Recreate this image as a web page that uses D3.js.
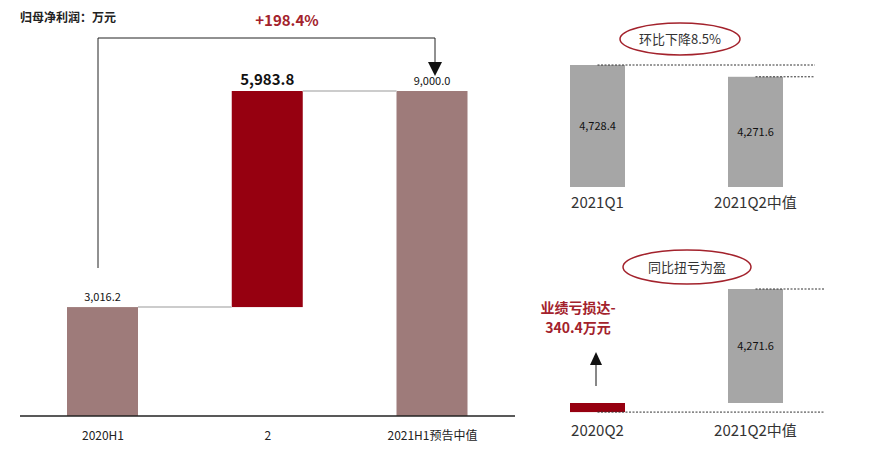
<!DOCTYPE html>
<html><head><meta charset="utf-8">
<script src="https://cdn.jsdelivr.net/npm/d3@7"></script>
<style>body{margin:0;background:#fff}text{font-family:"Noto Sans CJK SC","Noto Sans",sans-serif}</style>
</head><body>
<svg width="880" height="455"></svg>
<script>
// Main waterfall
const categories = ["2020H1", "2", "2021H1预告中值"];
const starts = [0, 3016.2, 0];
const values = [3016.2, 5983.8, 9000.0];
const labels = ["3,016.2", "5,983.8", "9,000.0"];
const colors = ["#9e7b7a", "#960010", "#9e7b7a"];

// Sequential (top right)
const qoqCats = ["2021Q1", "2021Q2中值"];
const qoqVals = [4728.4, 4271.6];

// Year on year (bottom right)
const yoyCats = ["2020Q2", "2021Q2中值"];
const yoyVals = [-340.4, 4271.6];

const svg = d3.select("svg");
const red = "#a3222c";

// ---- main chart
const bw = 71;
const xc = d3.scalePoint().domain(categories).range([102.5, 432]);
const x = d => xc(d) - bw / 2;
const y = d3.scaleLinear().domain([0, 9000]).range([416, 91]);

svg.append("text").attr("x", 20).attr("y", 22).attr("font-size", 12).attr("font-weight", "bold")
    .attr("fill", "#222").text("归母净利润：万元");

svg.selectAll("rect.bar").data(values).join("rect").attr("class", "bar")
    .attr("x", (d, i) => x(categories[i]))
    .attr("width", bw)
    .attr("y", (d, i) => y(starts[i] + d))
    .attr("height", (d, i) => y(starts[i]) - y(starts[i] + d))
    .attr("fill", (d, i) => colors[i]);

// connectors
svg.append("line").attr("x1", x(categories[0]) + bw).attr("x2", x(categories[1]))
    .attr("y1", y(3016.2)).attr("y2", y(3016.2)).attr("stroke", "#ccc").attr("stroke-width", 2);
svg.append("line").attr("x1", x(categories[1]) + bw).attr("x2", x(categories[2]))
    .attr("y1", y(9000)).attr("y2", y(9000)).attr("stroke", "#ccc").attr("stroke-width", 2);

svg.selectAll("text.vl").data(values).join("text").attr("class", "vl")
    .attr("x", (d, i) => xc(categories[i]))
    .attr("y", (d, i) => y(starts[i] + d) - 6)
    .attr("text-anchor", "middle")
    .attr("font-size", (d, i) => i == 1 ? 15 : 11)
    .attr("font-weight", (d, i) => i == 1 ? "bold" : "normal")
    .attr("fill", "#111")
    .text((d, i) => labels[i]);

const ax = svg.append("g").attr("transform", "translate(0,416)")
    .call(d3.axisBottom(xc).tickSize(0).tickPadding(15));
ax.select(".domain").attr("d", "M20,0H515").attr("stroke", "#222").attr("stroke-width", 1.5);
ax.selectAll("text").attr("font-size", 12).attr("fill", "#222");

// growth arrow
const ax0 = 98, ax1 = 435;
svg.append("path").attr("d", `M${ax0},268V38H${ax1}V62`).attr("fill", "none").attr("stroke", "#222");
svg.append("path").attr("d", `M${ax1 - 7},62H${ax1 + 7}L${ax1},76Z`).attr("fill", "#111");
svg.append("text").attr("x", 287).attr("y", 26).attr("text-anchor", "middle")
    .attr("font-size", 15).attr("font-weight", "bold").attr("fill", red).text("+198.4%");

// ---- top right
const bw2 = 55;
const x2 = d3.scalePoint().domain(qoqCats).range([597.5, 755.5]);
const y2 = d3.scaleLinear().domain([0, 4728.4]).range([187, 65]);
svg.selectAll("rect.q").data(qoqVals).join("rect").attr("class", "q")
    .attr("x", (d, i) => x2(qoqCats[i]) - bw2 / 2).attr("width", bw2)
    .attr("y", d => y2(d)).attr("height", d => y2(0) - y2(d)).attr("fill", "#a6a6a6");
svg.selectAll("text.ql").data(qoqVals).join("text").attr("class", "ql")
    .attr("x", (d, i) => x2(qoqCats[i])).attr("y", d => (y2(d) + y2(0)) / 2 + 4)
    .attr("text-anchor", "middle").attr("font-size", 11).attr("fill", "#111")
    .text(d => d3.format(",.1f")(d));
svg.append("line").attr("x1", x2(qoqCats[0])).attr("x2", 815)
    .attr("y1", y2(4728.4)).attr("y2", y2(4728.4)).attr("stroke", "#333").attr("stroke-dasharray", "2,1.5");
svg.append("line").attr("x1", x2(qoqCats[1])).attr("x2", 815)
    .attr("y1", y2(4271.6)).attr("y2", y2(4271.6)).attr("stroke", "#333").attr("stroke-dasharray", "2,1.5");
svg.selectAll("text.qc").data(qoqCats).join("text").attr("class", "qc")
    .attr("x", d => x2(d)).attr("y", 208).attr("text-anchor", "middle")
    .attr("font-size", 15).attr("fill", "#333").text(d => d);
svg.append("ellipse").attr("cx", 680).attr("cy", 39).attr("rx", 60).attr("ry", 16)
    .attr("fill", "none").attr("stroke", red).attr("stroke-width", 1.5);
svg.append("text").attr("x", 680).attr("y", 44).attr("text-anchor", "middle")
    .attr("font-size", 13).attr("fill", "#333").text("环比下降8.5%");

// ---- bottom right
const y3 = d3.scaleLinear().domain([0, 4271.6]).range([403, 289]);
svg.selectAll("rect.yy").data(yoyVals).join("rect").attr("class", "yy")
    .attr("x", (d, i) => x2(qoqCats[i]) - bw2 / 2)
    .attr("width", bw2)
    .attr("y", d => d < 0 ? y3(0) : y3(d))
    .attr("height", d => Math.abs(y3(0) - y3(d)))
    .attr("fill", (d, i) => i == 0 ? "#960010" : "#a6a6a6");
svg.append("text").attr("x", x2(qoqCats[1])).attr("y", (y3(4271.6) + y3(0)) / 2 + 4)
    .attr("text-anchor", "middle").attr("font-size", 11).attr("fill", "#111").text("4,271.6");
svg.append("line").attr("x1", x2(qoqCats[0])).attr("x2", 825)
    .attr("y1", y3(-340.4)).attr("y2", y3(-340.4)).attr("stroke", "#333").attr("stroke-dasharray", "2,1.5");
svg.append("line").attr("x1", x2(qoqCats[1])).attr("x2", 825)
    .attr("y1", y3(4271.6)).attr("y2", y3(4271.6)).attr("stroke", "#333").attr("stroke-dasharray", "2,1.5");
svg.selectAll("text.yc").data(yoyCats).join("text").attr("class", "yc")
    .attr("x", (d, i) => x2(qoqCats[i])).attr("y", 436).attr("text-anchor", "middle")
    .attr("font-size", 15).attr("fill", "#333").text(d => d);
svg.append("ellipse").attr("cx", 687).attr("cy", 267).attr("rx", 64).attr("ry", 17)
    .attr("fill", "none").attr("stroke", red).attr("stroke-width", 1.5);
svg.append("text").attr("x", 687).attr("y", 272).attr("text-anchor", "middle")
    .attr("font-size", 13).attr("fill", "#333").text("同比扭亏为盈");
svg.append("text").attr("x", 578).attr("y", 313).attr("text-anchor", "middle")
    .attr("font-size", 14).attr("font-weight", "bold").attr("fill", red).text("业绩亏损达-");
svg.append("text").attr("x", 578).attr("y", 333).attr("text-anchor", "middle")
    .attr("font-size", 14).attr("font-weight", "bold").attr("fill", red).text("340.4万元");
svg.append("line").attr("x1", 596).attr("x2", 596).attr("y1", 386).attr("y2", 365).attr("stroke", "#111");
svg.append("path").attr("d", "M590,365H602L596,352Z").attr("fill", "#111");
</script>
</body></html>
